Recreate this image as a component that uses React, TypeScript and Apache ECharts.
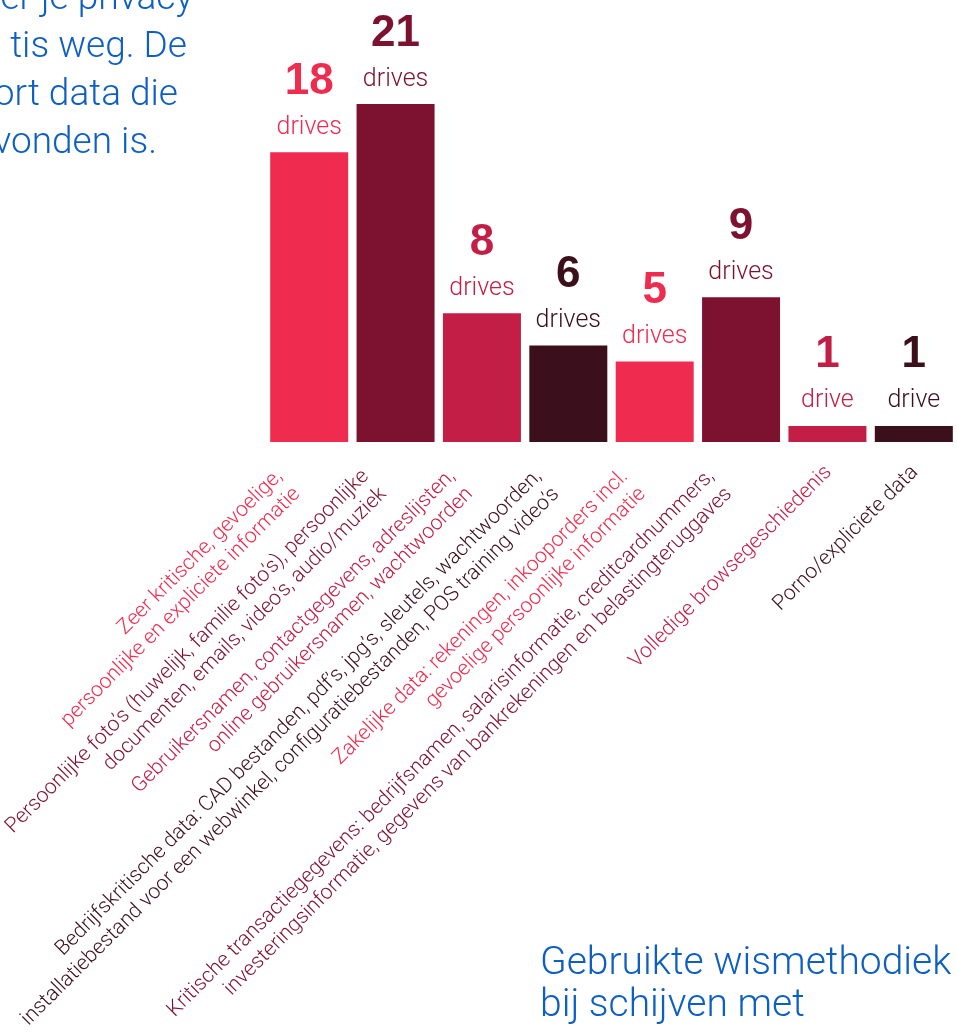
import React, { useEffect, useRef } from "react";
import * as echarts from "echarts";

const categories = [
  "Zeer kritische, gevoelige,\npersoonlijke en expliciete informatie",
  "Persoonlijke foto’s (huwelijk, familie foto’s), persoonlijke\ndocumenten, emails, video’s, audio/muziek",
  "Gebruikersnamen, contactgegevens, adreslijsten,\nonline gebruikersnamen, wachtwoorden",
  "Bedrijfskritische data: CAD bestanden, pdf’s, jpg’s, sleutels, wachtwoorden,\ninstallatiebestand voor een webwinkel, configuratiebestanden, POS training video’s",
  "Zakelijke data: rekeningen, inkooporders incl.\ngevoelige persoonlijke informatie",
  "Kritische transactiegegevens: bedrijfsnamen, salarisinformatie, creditcardnummers,\ninvesteringsinformatie, gegevens van bankrekeningen en belastingteruggaves",
  "Volledige browsegeschiedenis",
  "Porno/expliciete data",
];
const values = [18, 21, 8, 6, 5, 9, 1, 1];
const units = ["drives", "drives", "drives", "drives", "drives", "drives", "drive", "drive"];
const colors = ["#EF2C50", "#7D1130", "#C21E46", "#3C0F1C", "#EF2C50", "#7D1130", "#C21E46", "#3C0F1C"];

const introLines = ["er je privacy", "tis weg. De", "ort data die", "vonden is."];
const footerLines = ["Gebruikte wismethodiek", "bij schijven met"];

const FONT = "Roboto, 'Liberation Sans', Arial, sans-serif";
const BFONT = "'Liberation Sans', Arial, Helvetica, sans-serif";
const BLUE = "#0E5FC2";

export default function App() {
  const ref = useRef<HTMLDivElement>(null);
  useEffect(() => {
    if (!ref.current) return;
    const chart = echarts.init(ref.current, undefined, { renderer: "svg" });
    const introEnds = [193, 187, 178, 157];
    const introBase = [9, 57, 105, 153];
    const graphic: any[] = [];
    introLines.forEach((t, i) => {
      graphic.push({
        type: "text",
        x: introEnds[i],
        y: introBase[i] - 13,
        style: { text: t, fill: BLUE, fontSize: 37, fontWeight: 300, fontFamily: FONT, align: "right", verticalAlign: "middle" },
      });
    });
    const footBase = [975, 1017];
    footerLines.forEach((t, i) => {
      graphic.push({
        type: "text",
        x: 540,
        y: footBase[i] - 14,
        style: { text: t, fill: BLUE, fontSize: 39, fontWeight: 300, fontFamily: FONT, align: "left", verticalAlign: "middle" },
      });
    });

    chart.setOption({
      animation: false,
      grid: { left: 266, right: 0, top: 104, bottom: 590, containLabel: false, outerBoundsMode: "none" },
      xAxis: {
        type: "category",
        data: categories.map((c, i) => ({
          value: c,
          textStyle: {
            color: colors[i],
            padding: c.includes("\n") ? [0, 25, 0, 0] : [0, 0, 0, 0],
          },
        })),
        axisLine: { show: false },
        axisTick: { show: false },
        axisLabel: {
          interval: 0,
          rotate: 45,
          fontSize: 21,
          fontWeight: 300,
          lineHeight: 25,
          margin: 26,
          fontFamily: FONT,
          formatter: (v: string) => (v.includes("\n") ? v + "\n{s| }" : v),
          rich: { s: { fontSize: 1, lineHeight: 13 } },
        },
      },
      yAxis: { type: "value", min: 0, max: 21, show: false, splitLine: { show: false } },
      graphic,
      series: [
        {
          type: "bar",
          barWidth: 78,
          data: values.map((v, i) => ({
            value: v,
            itemStyle: { color: colors[i] },
            label: { color: colors[i] },
          })),
          label: {
            show: true,
            position: "top",
            distance: 13,
            fontFamily: FONT,
            formatter: (p: any) => `{n|${p.value}}\n{d|${units[p.dataIndex]}}`,
            rich: {
              n: { fontSize: 44, fontWeight: "bold", lineHeight: 66, fontFamily: BFONT },
              d: { fontSize: 25, fontWeight: 300, lineHeight: 28, fontFamily: FONT },
            },
          },
        },
      ],
    });
    return () => chart.dispose();
  }, []);
  return <div ref={ref} style={{ position: "fixed", left: 0, top: 0, width: 957, height: 1032 }} />;
}
